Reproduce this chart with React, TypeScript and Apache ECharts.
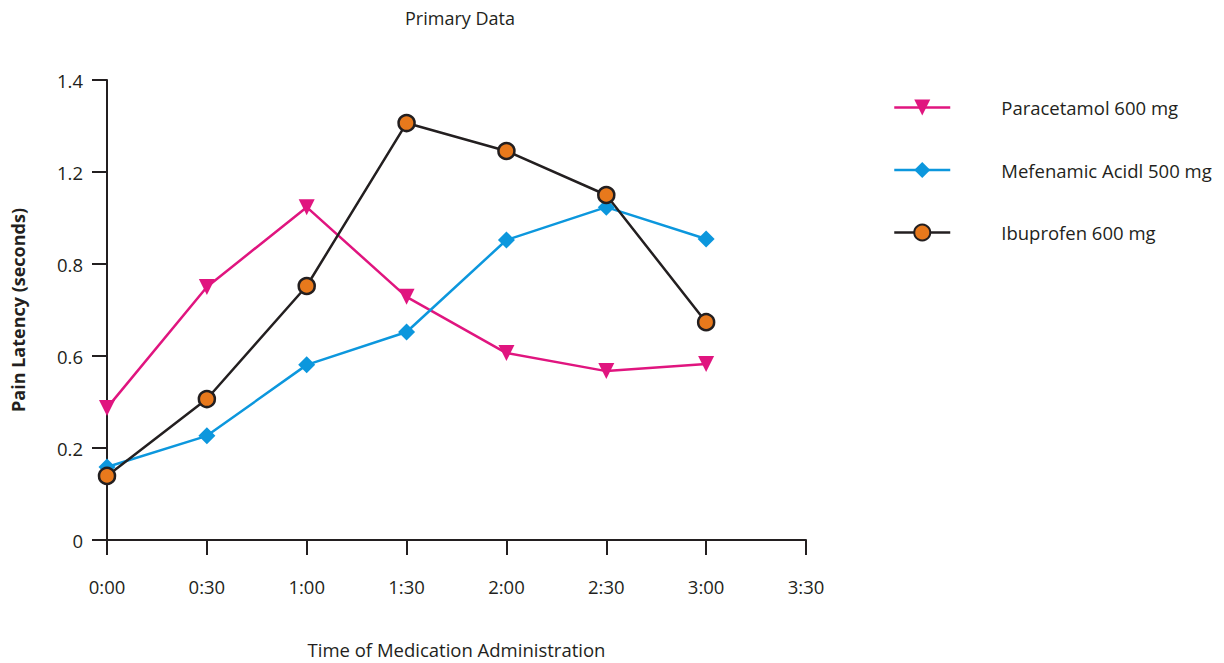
import React, { useEffect, useRef } from "react";
import * as echarts from "echarts";

const xCategories = ["0:00", "0:30", "1:00", "1:30", "2:00", "2:30", "3:00", "3:30"];
const yTickLabels = ["0", "0.2", "0.6", "0.8", "1.2", "1.4"];
const paracetamol = [0.402, 0.77, 1.013, 0.74, 0.569, 0.514, 0.536];
const mefenamic = [0.222, 0.317, 0.533, 0.633, 0.913, 1.013, 0.916];
const ibuprofen = [0.195, 0.429, 0.773, 1.269, 1.184, 1.05, 0.663];
const seriesNames = ["Paracetamol 600 mg", "Mefenamic Acidl 500 mg", "Ibuprofen 600 mg"];

const FONT = "'Open Sans', sans-serif";
const TXT = "#231F20";
const FS = 18.5;

export default function App() {
  const ref = useRef<HTMLDivElement>(null);
  useEffect(() => {
    if (!ref.current) return;
    const chart = echarts.init(ref.current, null, { renderer: "svg" });
    const yMax = 1.4;
    const yStep = yMax / (yTickLabels.length - 1);
    chart.setOption({
      animation: false,
      textStyle: { fontFamily: FONT, color: TXT },
      title: {
        text: "Primary Data",
        left: 455,
        top: 4,
        textAlign: "center",
        textStyle: { fontFamily: FONT, fontSize: 18, fontWeight: "normal", color: TXT },
      },
      grid: {
        left: 107,
        top: 80,
        width: 699,
        height: 460,
        containLabel: false,
        outerBoundsMode: "none",
      },
      legend: {
        orient: "vertical",
        left: 888,
        top: 93,
        itemWidth: 56,
        itemHeight: 20,
        itemGap: 43.5,
        lineStyle: { width: 2.5 },
        textStyle: { fontFamily: FONT, fontSize: FS, color: TXT, padding: [0, 0, 0, 46] },
        data: seriesNames,
      },
      xAxis: {
        type: "category",
        data: xCategories,
        boundaryGap: false,
        name: "Time of Medication Administration",
        nameLocation: "middle",
        nameGap: 100,
        nameTextStyle: { fontFamily: FONT, fontSize: FS, color: TXT },
        axisLine: { lineStyle: { color: TXT, width: 2 } },
        axisTick: { length: 15, lineStyle: { color: TXT, width: 2 } },
        axisLabel: { margin: 37, fontFamily: FONT, fontSize: FS, color: TXT },
        splitLine: { show: false },
      },
      yAxis: {
        type: "value",
        min: 0,
        max: yMax,
        interval: yStep,
        name: "Pain Latency (seconds)",
        nameLocation: "middle",
        nameGap: 80,
        nameTextStyle: { fontFamily: FONT, fontSize: 18, fontWeight: "bold", color: TXT },
        axisLine: { show: true, lineStyle: { color: TXT, width: 2 } },
        axisTick: { show: true, length: 15, lineStyle: { color: TXT, width: 2 } },
        axisLabel: {
          margin: 24,
          fontFamily: FONT,
          fontSize: FS,
          color: TXT,
          formatter: (v: number) => yTickLabels[Math.round(v / yStep)] ?? "",
        },
        splitLine: { show: false },
      },
      series: [
        {
          name: seriesNames[0],
          type: "line",
          data: paracetamol,
          symbol: "triangle",
          symbolRotate: 180,
          symbolSize: 16,
          lineStyle: { color: "#E0157F", width: 2.5 },
          itemStyle: { color: "#E0157F" },
        },
        {
          name: seriesNames[1],
          type: "line",
          data: mefenamic,
          symbol: "diamond",
          symbolSize: 17,
          lineStyle: { color: "#0C97DD", width: 2.5 },
          itemStyle: { color: "#0C97DD" },
        },
        {
          name: seriesNames[2],
          type: "line",
          data: ibuprofen,
          symbol: "circle",
          symbolSize: 16,
          lineStyle: { color: "#231F20", width: 2.5 },
          itemStyle: { color: "#E8791C", borderColor: "#231F20", borderWidth: 2.5 },
        },
      ],
    });
    return () => chart.dispose();
  }, []);
  return (
    <div
      ref={ref}
      style={{ position: "fixed", left: 0, top: 0, width: 1224, height: 663, background: "#fff" }}
    />
  );
}
